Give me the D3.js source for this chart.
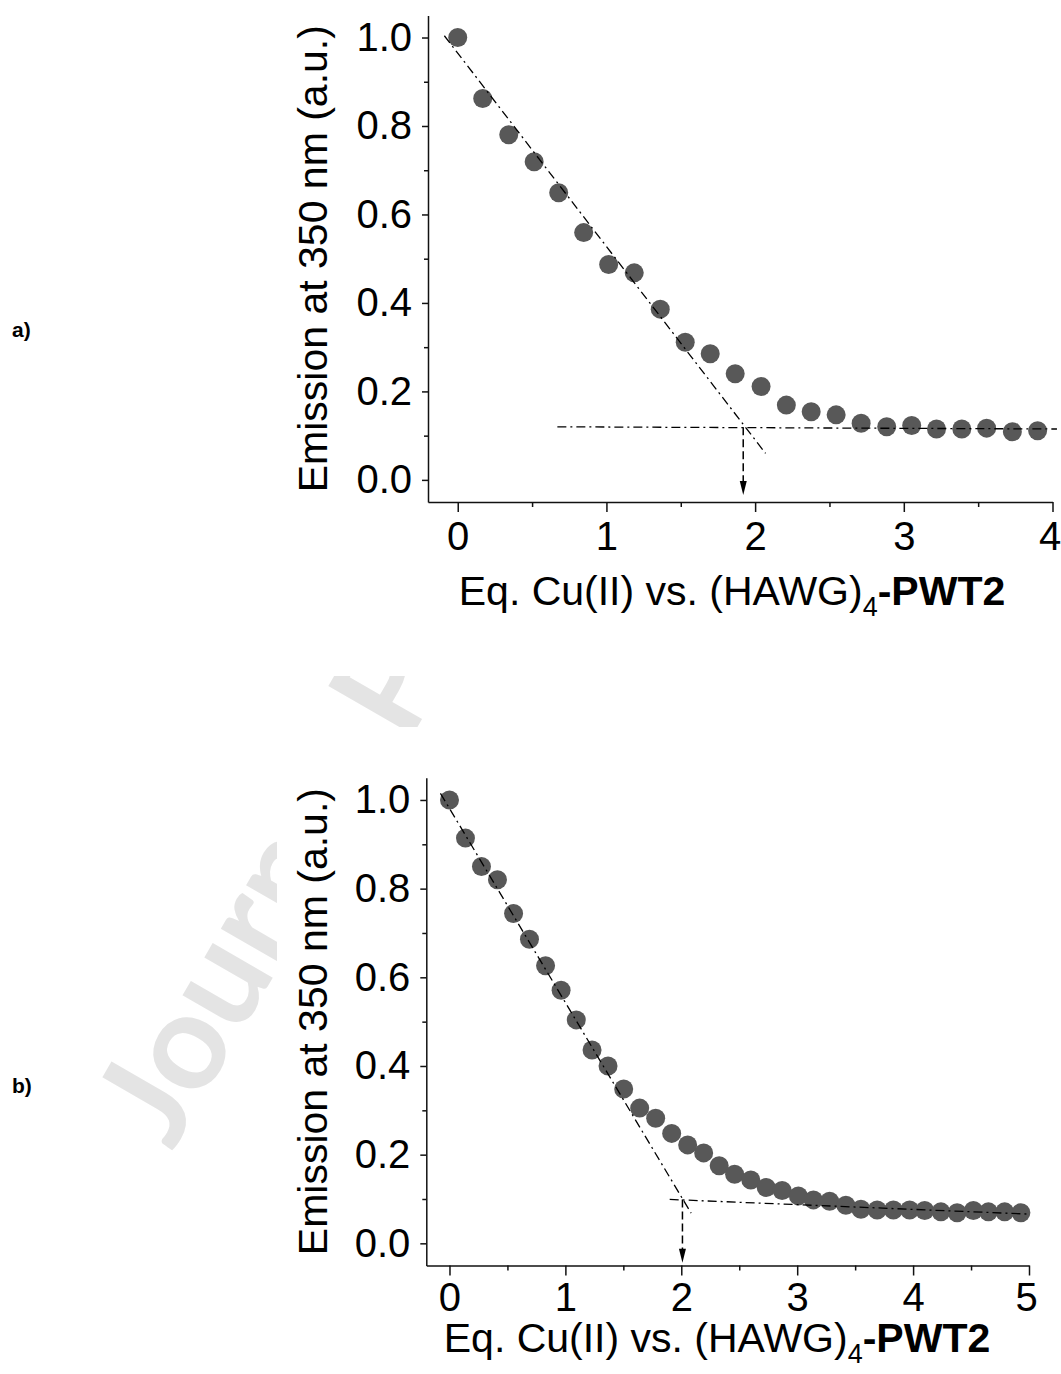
<!DOCTYPE html>
<html lang="en">
<head>
<meta charset="UTF-8">
<title>Emission vs Eq. Cu(II)</title>
<script src="https://d3js.org/d3.v7.min.js"></script>
<style>
    body { margin: 0; padding: 0; background: #fff; overflow: hidden; }
    svg { display: block; font-family: "Liberation Sans", Arial, sans-serif; }
    .axis path, .axis line { stroke: #111; stroke-width: 1.5px; }
    .axis text { font-size: 40px; fill: #000; font-family: "Liberation Sans", Arial, sans-serif; }
</style>
</head>
<body>
<svg id="chart" width="1061" height="1374"></svg>
<script>
// panel a) titration points
const eqA = [0, 0.168, 0.343, 0.514, 0.679, 0.847, 1.015, 1.187, 1.362, 1.53, 1.698, 1.866,
             2.04, 2.21, 2.377, 2.545, 2.713, 2.885, 3.053, 3.22, 3.39, 3.557, 3.73, 3.9];
const emA = [1.0, 0.862, 0.78, 0.719, 0.649, 0.559, 0.487, 0.468, 0.386, 0.311, 0.285, 0.24,
             0.211, 0.169, 0.154, 0.147, 0.128, 0.12, 0.123, 0.115, 0.115, 0.117, 0.109, 0.111];

// panel b) titration points
const eqB = [0, 0.138, 0.276, 0.414, 0.553, 0.69, 0.829, 0.963, 1.094, 1.23, 1.368, 1.503,
             1.641, 1.779, 1.917, 2.055, 2.193, 2.327, 2.46, 2.6, 2.733, 2.87, 3.01, 3.14,
             3.28, 3.42, 3.55, 3.69, 3.83, 3.97, 4.10, 4.24, 4.38, 4.52, 4.65, 4.79, 4.93];
const emB = [1.0, 0.914, 0.85, 0.82, 0.744, 0.686, 0.626, 0.571, 0.504, 0.436, 0.40, 0.348,
             0.305, 0.282, 0.248, 0.222, 0.204, 0.175, 0.156, 0.143, 0.126, 0.119, 0.107, 0.098,
             0.095, 0.086, 0.077, 0.075, 0.075, 0.075, 0.074, 0.071, 0.069, 0.074, 0.071, 0.071, 0.069];

// guide lines (endpoints in data units)
const fitA = [[-0.09, 1.004], [2.07, 0.06]];
const baseA = [[0.67, 0.12], [4.03, 0.115]];
const endA = [[1.92, 0.119], [1.92, -0.034]];
const fitB = [[-0.078, 1.015], [2.085, 0.068]];
const baseB = [[1.9, 0.099], [4.99, 0.066]];
const endB = [[2.01, 0.099], [2.01, -0.044]];

// ticks
const xTicksA = [0, 1, 2, 3, 4];
const xMinorA = [0.5, 1.5, 2.5, 3.5];
const xTicksB = [0, 1, 2, 3, 4, 5];
const xMinorB = [0.5, 1.5, 2.5, 3.5, 4.5];
const yTicks = [0, 0.2, 0.4, 0.6, 0.8, 1.0];
const yMinor = [0.1, 0.3, 0.5, 0.7, 0.9];

const yTitle = "Emission at 350 nm (a.u.)";

const svg = d3.select("#chart");
svg.append("rect").attr("width", 1061).attr("height", 1374).attr("fill", "#fff");

// faint "Journal Pre-proof" watermark, mostly hidden behind the figure images
svg.append("text")
    .attr("transform", "translate(172,1152) rotate(-60)")
    .attr("font-family", "Lato, 'Open Sans', sans-serif")
    .attr("font-size", 135)
    .attr("font-weight", "bold")
    .attr("fill", "#e4e4e4")
    .text("Journal Pre-proof");
svg.append("rect").attr("x", 277).attr("y", 0).attr("width", 784).attr("height", 676).attr("fill", "#fff");
svg.append("rect").attr("x", 277).attr("y", 727).attr("width", 784).attr("height", 647).attr("fill", "#fff");

const panels = [
    {
        label: "a)", labelY: 337,
        xs: eqA, ys: emA, fit: fitA, base: baseA, arrow: endA,
        xTicks: xTicksA, xMinor: xMinorA, xDomain: [-0.2, 4],
        xRange: [428, 1052.5], yRange: [502, 15.4], xPad: 10,
        yTitleX: 327, xTitleX: 732, xTitleY: 605
    },
    {
        label: "b)", labelY: 1093,
        xs: eqB, ys: emB, fit: fitB, base: baseB, arrow: endB,
        xTicks: xTicksB, xMinor: xMinorB, xDomain: [-0.2, 5],
        xRange: [426.3, 1029], yRange: [1265.5, 777.8], xPad: 7,
        yTitleX: 327, xTitleX: 717, xTitleY: 1352
    }
];

panels.forEach(p => {
    const x = d3.scaleLinear().domain(p.xDomain).range(p.xRange);
    const y = d3.scaleLinear().domain([-0.05, 1.05]).range(p.yRange);
    const x0 = p.xRange[0], y0 = p.yRange[0];

    svg.append("text")
        .attr("x", 12).attr("y", p.labelY)
        .attr("font-size", 21).attr("font-weight", "bold")
        .text(p.label);

    // axes (left + bottom only)
    const gx = svg.append("g").attr("class", "axis")
        .attr("transform", `translate(0,${y0})`)
        .call(d3.axisBottom(x).tickValues(p.xTicks).tickSize(10).tickSizeOuter(0)
            .tickPadding(p.xPad).tickFormat(d3.format("d")));
    // last label sits on the page edge, nudge it in a little
    gx.selectAll(".tick text").filter(d => d === p.xDomain[1]).attr("dx", -3);
    svg.append("g").attr("class", "axis")
        .attr("transform", `translate(0,${y0})`)
        .call(d3.axisBottom(x).tickValues(p.xMinor).tickSize(5).tickFormat(""))
        .select(".domain").remove();
    svg.append("g").attr("class", "axis")
        .attr("transform", `translate(${x0},0)`)
        .call(d3.axisLeft(y).tickValues(yTicks).tickSize(6).tickSizeOuter(0)
            .tickPadding(10).tickFormat(d3.format(".1f")));
    svg.append("g").attr("class", "axis")
        .attr("transform", `translate(${x0},0)`)
        .call(d3.axisLeft(y).tickValues(yMinor).tickSize(4).tickFormat(""))
        .select(".domain").remove();

    // titles
    svg.append("text")
        .attr("transform", `translate(${p.yTitleX},${(p.yRange[0] + p.yRange[1]) / 2}) rotate(-90)`)
        .attr("text-anchor", "middle")
        .attr("font-size", 41)
        .text(yTitle);

    const xt = svg.append("text")
        .attr("x", p.xTitleX).attr("y", p.xTitleY)
        .attr("text-anchor", "middle")
        .attr("font-size", 41);
    xt.append("tspan").text("Eq. Cu(II) vs. (HAWG)");
    xt.append("tspan").attr("font-size", 27).attr("dy", 11).text("4");
    xt.append("tspan").attr("dy", -11).attr("font-weight", "bold").text("-PWT2");

    // points
    svg.append("g").selectAll("circle")
        .data(p.xs.map((v, i) => [v, p.ys[i]]))
        .join("circle")
        .attr("cx", d => x(d[0]))
        .attr("cy", d => y(d[1]))
        .attr("r", 9.5)
        .attr("fill", "#585858");

    // guide lines on top of the points
    const line = d3.line().x(d => x(d[0])).y(d => y(d[1]));
    [p.fit, p.base].forEach(seg => {
        svg.append("path")
            .attr("d", line(seg))
            .attr("fill", "none")
            .attr("stroke", "#000")
            .attr("stroke-width", 1.3)
            .attr("stroke-dasharray", "9,4,2,4");
    });
    const ax = x(p.arrow[0][0]);
    const tipY = y(p.arrow[1][1]);
    svg.append("path")
        .attr("d", line([p.arrow[0], [p.arrow[1][0], p.arrow[1][1] + 0.03]]))
        .attr("fill", "none")
        .attr("stroke", "#000")
        .attr("stroke-width", 1.5)
        .attr("stroke-dasharray", "8,4");
    svg.append("path")
        .attr("d", `M${ax - 3.5},${tipY - 14}L${ax + 3.5},${tipY - 14}L${ax},${tipY}Z`)
        .attr("fill", "#000");
});
</script>
</body>
</html>
